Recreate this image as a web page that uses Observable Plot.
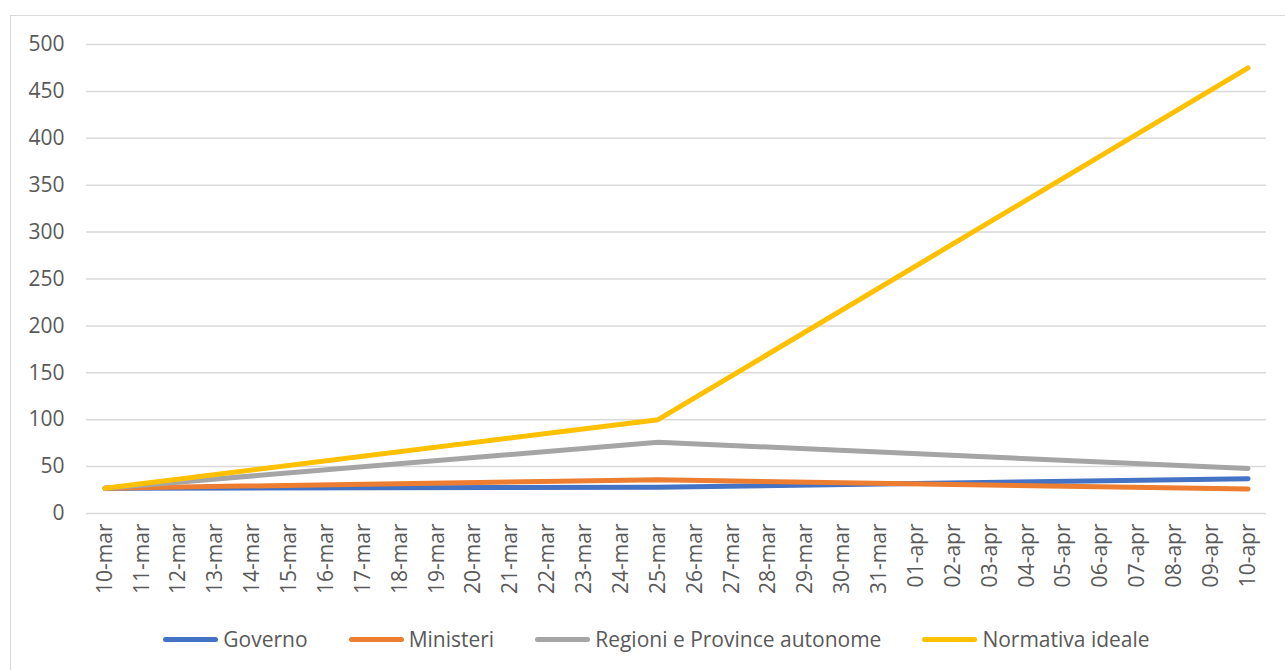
<!DOCTYPE html>
<html>
<head>
<meta charset="utf-8">
<script src="https://cdn.jsdelivr.net/npm/d3@7"></script>
<script src="https://cdn.jsdelivr.net/npm/@observablehq/plot@0.6"></script>
<style>
  html, body { margin: 0; padding: 0; background: #fff; overflow: hidden; }
  body { width: 1285px; height: 670px; position: relative; font-family: "Open Sans", sans-serif; }
  #frame { position: absolute; left: 10px; top: 15px; width: 1300px; height: 700px; border: 1px solid #d9d9d9; box-sizing: border-box; }
  #chart { position: absolute; left: 0; top: 0; }
  #legend { position: absolute; left: 0; top: 625px; width: 1285px; display: flex; justify-content: center; padding-left: 28px; box-sizing: border-box; gap: 41px; font-size: 21px; color: #595959; }
  .item { display: flex; align-items: center; }
  .sw { width: 55px; height: 5px; border-radius: 3px; margin-right: 5px; }
</style>
</head>
<body>
<div id="frame"></div>
<div id="chart"></div>
<div id="legend"></div>
<script>
const dates = ["10-mar","11-mar","12-mar","13-mar","14-mar","15-mar","16-mar","17-mar","18-mar","19-mar","20-mar","21-mar","22-mar","23-mar","24-mar","25-mar","26-mar","27-mar","28-mar","29-mar","30-mar","31-mar","01-apr","02-apr","03-apr","04-apr","05-apr","06-apr","07-apr","08-apr","09-apr","10-apr"];
const knotDates = ["10-mar", "25-mar", "10-apr"];
const seriesNames = ["Governo", "Ministeri", "Regioni e Province autonome", "Normativa ideale"];
const governo = [27, 28, 37];
const ministeri = [27, 36, 26];
const regioni = [27, 76, 48];
const normativa = [27, 100, 475];
const yTicks = [0, 50, 100, 150, 200, 250, 300, 350, 400, 450, 500];
const colors = ["#4472C4", "#ED7D31", "#A5A5A5", "#FFC000"];

const seriesValues = [governo, ministeri, regioni, normativa];
const rows = [];
seriesNames.forEach((s, i) => knotDates.forEach((d, j) => rows.push({series: s, date: d, value: seriesValues[i][j]})));

const chart = Plot.plot({
  width: 1285,
  height: 615,
  marginLeft: 86,
  marginRight: 19,
  marginTop: 44,
  marginBottom: 102,
  style: {fontFamily: "'Open Sans', sans-serif", fontSize: "21px", color: "#595959", background: "transparent"},
  x: {type: "point", domain: dates, padding: 0.5, round: false, label: null},
  y: {domain: [0, 500], label: null},
  color: {domain: seriesNames, range: colors},
  marks: [
    Plot.gridY(yTicks, {stroke: "#d9d9d9", strokeOpacity: 1, strokeWidth: 1.5}),
    Plot.axisY(yTicks, {tickSize: 0, tickPadding: 22, fontSize: 21, fill: "#595959", label: null}),
    Plot.axisX({tickSize: 0, tickPadding: 10, tickRotate: -90, fontSize: 21, fill: "#595959", label: null}),
    Plot.line(rows, {x: "date", y: "value", z: "series", stroke: "series", strokeWidth: 5, strokeLinecap: "round", strokeLinejoin: "round"})
  ]
});
document.getElementById("chart").appendChild(chart);

const legend = document.getElementById("legend");
seriesNames.forEach((s, i) => {
  const it = document.createElement("div");
  it.className = "item";
  const sw = document.createElement("div");
  sw.className = "sw";
  sw.style.background = colors[i];
  const t = document.createElement("span");
  t.textContent = s;
  it.appendChild(sw); it.appendChild(t);
  legend.appendChild(it);
});
</script>
</body>
</html>
